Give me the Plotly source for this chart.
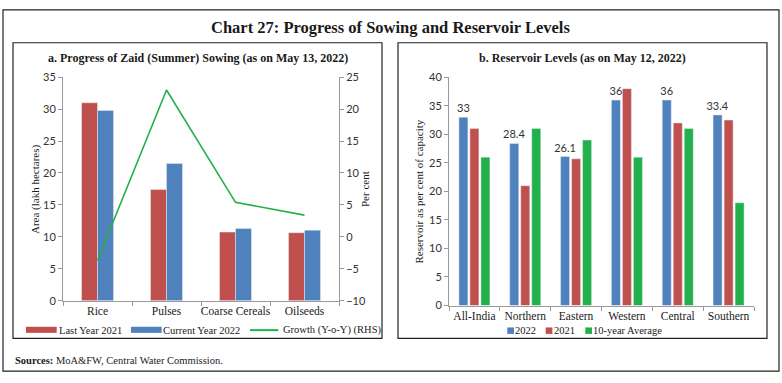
import plotly.graph_objects as go

W, H = 782, 383

# ---------------- data ----------------
crops = ["Rice", "Pulses", "Coarse Cereals", "Oilseeds"]
area_2021 = [31.0, 17.4, 10.75, 10.65]
area_2022 = [29.8, 21.5, 11.3, 11.05]
growth_yoy = [-3.7, 23.0, 5.4, 3.4]

regions = ["All-India", "Northern", "Eastern", "Western", "Central", "Southern"]
res_2022 = [33, 28.4, 26.1, 36, 36, 33.4]
res_2021 = [31, 21, 25.7, 38, 32, 32.5]
res_10yr = [26, 31, 29, 26, 31, 18]

# ---------------- style ----------------
RED = "#C0504D"
BLUE = "#4F81BD"
GREEN = "#21B04B"
AXC = "#9a9a9a"
TXT = "#1a1a1a"
SERIF = "Liberation Serif"
SANS = "Lato"


def px(x):
    return x / W


def py(y):
    return 1 - y / H


fig = go.Figure()

# Panel a bars
bw_a = 16 / 69
fig.add_trace(go.Bar(x=crops, y=area_2021, name="Last Year 2021", marker_color=RED,
                     width=bw_a, offset=-bw_a, xaxis="x", yaxis="y", showlegend=False))
fig.add_trace(go.Bar(x=crops, y=area_2022, name="Current Year 2022", marker_color=BLUE,
                     width=bw_a, offset=0, xaxis="x", yaxis="y", showlegend=False))
fig.add_trace(go.Scatter(x=crops, y=growth_yoy, name="Growth (Y-o-Y) (RHS)", mode="lines",
                         line=dict(color=GREEN, width=1.6), xaxis="x", yaxis="y2", showlegend=False))

# Panel b bars
slot = 11 / 50.8
bw_b = 9 / 50.8
o0 = -1.5 * slot + (slot - bw_b) / 2
fig.add_trace(go.Bar(x=regions, y=res_2022, name="2022", marker_color=BLUE,
                     width=bw_b, offset=o0, xaxis="x2", yaxis="y3", showlegend=False,
                     text=[str(v) for v in res_2022], textposition="outside",
                     constraintext="none",
                     textfont=dict(family=SANS, size=11, color="#333"), cliponaxis=False))
fig.add_trace(go.Bar(x=regions, y=res_2021, name="2021", marker_color=RED,
                     width=bw_b, offset=o0 + slot, xaxis="x2", yaxis="y3", showlegend=False))
fig.add_trace(go.Bar(x=regions, y=res_10yr, name="10-year Average", marker_color=GREEN,
                     width=bw_b, offset=o0 + 2 * slot, xaxis="x2", yaxis="y3", showlegend=False))

axis_common = dict(showline=True, linecolor=AXC, linewidth=1, ticks="outside", tickcolor=AXC,
                   ticklen=4, showgrid=False, zeroline=False)

fig.update_layout(
    width=W, height=H,
    margin=dict(l=0, r=0, t=0, b=0),
    paper_bgcolor="white", plot_bgcolor="white",
    barmode="overlay",
    showlegend=False,
    font=dict(family=SERIF, color=TXT),
    xaxis=dict(domain=[px(63), px(339)], anchor="y", type="category", tickangle=0,
               tickson="boundaries", tickfont=dict(family=SERIF, size=11.5, color=TXT),
               **axis_common),
    yaxis=dict(domain=[py(304), py(72.7)], anchor="x", range=[0, 35], dtick=5,
               tickfont=dict(family=SANS, size=11, color="#333"), **axis_common),
    yaxis2=dict(overlaying="y", anchor="x", side="right", range=[-10, 25], dtick=5,
                tickfont=dict(family=SANS, size=11, color="#333"), **axis_common),
    xaxis2=dict(domain=[px(449), px(754)], anchor="y3", type="category", tickangle=0,
                tickson="boundaries", tickfont=dict(family=SERIF, size=11.5, color=TXT),
                **axis_common),
    yaxis3=dict(domain=[py(309), py(72.7)], anchor="x2", range=[0, 40], dtick=5,
                tickfont=dict(family=SANS, size=11, color="#333"), **axis_common),
)

shapes = []


def rect(x0, y0, x1, y1, line=None, fill=None):
    shapes.append(dict(type="rect", xref="paper", yref="paper",
                       x0=px(x0), x1=px(x1), y0=py(y1), y1=py(y0),
                       line=line or dict(width=0), fillcolor=fill, layer="above"))


# frames
rect(3, 3, 779, 377, line=dict(color="#222", width=1.2))
rect(13, 37, 382, 343, line=dict(color="#222", width=1.2))
rect(398, 37, 767, 343, line=dict(color="#222", width=1.2))

# legend a glyphs
rect(26, 331, 56.7, 337.3, fill=RED)
rect(131, 331, 161.7, 337.3, fill=BLUE)
shapes.append(dict(type="line", xref="paper", yref="paper", x0=px(250), x1=px(278.3),
                   y0=py(334.5), y1=py(334.5), line=dict(color=GREEN, width=2)))
# legend b glyphs
rect(507.3, 331.7, 514, 338.4, fill=BLUE)
rect(545.7, 331.7, 552.4, 338.4, fill=RED)
rect(585.3, 331.7, 592, 338.4, fill=GREEN)

fig.update_layout(shapes=shapes)

ann = []


def text(x, y, s, size=11, anchor="left", bold=False, angle=0, family=SERIF):
    if bold:
        s = "<b>" + s + "</b>"
    ann.append(dict(xref="paper", yref="paper", x=px(x), y=py(y), text=s, showarrow=False,
                    xanchor=anchor, yanchor="middle", textangle=angle,
                    font=dict(family=family, size=size, color=TXT)))


text(390, 21, "Chart 27: Progress of Sowing and Reservoir Levels", size=16.5, anchor="center", bold=True)
text(197.5, 53, "a. Progress of Zaid (Summer) Sowing (as on May 13, 2022)", size=12, anchor="center", bold=True)
text(582.5, 53, "b. Reservoir Levels (as on May 12, 2022)", size=12, anchor="center", bold=True)
text(35, 188.4, "Area (lakh hectares)", size=11, anchor="center", angle=-90)
text(365, 188.4, "Per cent", size=11, anchor="center", angle=-90)
text(419, 191, "Reservoir as per cent of capacity", size=11, anchor="center", angle=-90)
# legend a
text(57, 334.5, "Last Year 2021", size=10.5)
text(161, 334.5, "Current Year 2022", size=10.5)
text(281, 334.5, "Growth (Y-o-Y) (RHS)", size=10.5)
# legend b
text(513, 335, "2022", size=10.5)
text(551.5, 335, "2021", size=10.5)
text(591, 335, "10-year Average", size=10.5)
# source
text(13, 365.5, "<b>Sources:</b> MoA&FW, Central Water Commission.", size=10.5)

fig.update_layout(annotations=ann)

fig.write_html("out.html", post_script="document.body.style.margin='0';",
               config={"displayModeBar": False})
